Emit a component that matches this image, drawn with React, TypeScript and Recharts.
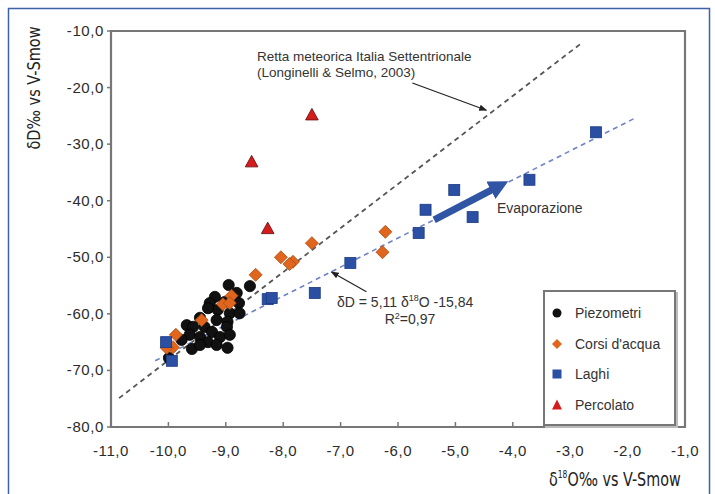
import {
  ScatterChart,
  Scatter,
  XAxis,
  YAxis,
  ReferenceArea,
  ReferenceLine,
  Legend,
  Customized,
} from 'recharts'

// δ18O / δD values
const piezX = [-8.95, -8.58, -9.19, -8.81, -9.02, -8.77, -9.28, -9.14, -9.31, -8.93, -9.45, -8.76, -9.16, -8.97, -8.98, -9.68, -9.57, -9.37, -9.63, -9.24, -9.45, -9.10, -8.93, -9.31, -9.16, -8.97, -9.59, -9.45, -9.77, -9.99]
const piezY = [-54.9, -55.1, -57.0, -56.3, -57.9, -58.1, -58.1, -59.3, -59.0, -59.9, -60.7, -59.9, -61.1, -61.4, -62.3, -62.0, -62.3, -62.3, -63.7, -63.2, -64.1, -64.1, -63.7, -65.0, -65.5, -66.0, -66.2, -65.5, -64.6, -67.8]

const corsiX = [-7.50, -6.22, -6.27, -8.04, -7.83, -7.89, -8.48, -8.90, -9.05, -8.93, -9.42, -9.87, -9.92, -10.03]
const corsiY = [-47.5, -45.5, -49.1, -50.0, -50.8, -51.2, -53.1, -56.8, -58.3, -58.1, -61.1, -63.7, -65.9, -66.0]

const laghiX = [-2.55, -3.71, -5.02, -5.52, -4.70, -5.64, -6.83, -7.45, -8.27, -8.20, -10.04, -9.94]
const laghiY = [-27.9, -36.3, -38.1, -41.6, -42.9, -45.7, -51.0, -56.3, -57.4, -57.2, -65.0, -68.3]

const percX = [-7.50, -8.55, -8.27]
const percY = [-24.9, -33.2, -45.0]

// retta meteorica (Longinelli & Selmo) and regression line end points
const mwlX = [-10.86, -2.81]
const mwlY = [-74.9, -12.2]
const regX = [-10.23, -1.89]
const regY = [-68.3, -25.5]

// annotation arrows
const evapX = [-5.37, -4.2]
const evapY = [-43.4, -37.2]
const mwlArrowX = [-5.75, -4.46]
const mwlArrowY = [-19.2, -24.0]
const regArrowX = [-6.55, -7.16]
const regArrowY = [-56.1, -52.6]

const xTicks = [-11, -10, -9, -8, -7, -6, -5, -4, -3, -2, -1]
const yTicks = [-80, -70, -60, -50, -40, -30, -20, -10]

const seriesNames = ['Piezometri', "Corsi d'acqua", 'Laghi', 'Percolato']

const toPts = (xs: number[], ys: number[]) => xs.map((x, i) => ({ x, y: ys[i] }))

const piezData = toPts(piezX, piezY)
const corsiData = toPts(corsiX, corsiY)
const laghiData = toPts(laghiX, laghiY)
const percData = toPts(percX, percY)

const fmt = (v: number) => v.toFixed(1).replace('.', ',')
const FONT = '"Liberation Sans", Arial, sans-serif'
const COND = '"DejaVu Sans Condensed", "DejaVu Sans", sans-serif'

const Dot = (p: any) => <circle cx={p.cx} cy={p.cy} r={5.6} fill="#111" stroke="#000" strokeWidth={0.8} />
const Diamond = (p: any) => {
  const s = 6.5
  return (
    <polygon
      points={`${p.cx},${p.cy - s} ${p.cx + s},${p.cy} ${p.cx},${p.cy + s} ${p.cx - s},${p.cy}`}
      fill="#e0661e"
      stroke="#a94a12"
      strokeWidth={0.8}
    />
  )
}
const Square = (p: any) => (
  <rect x={p.cx - 5.5} y={p.cy - 5.5} width={11} height={11} fill="#2b4fa3" stroke="#1b3a80" strokeWidth={0.8} />
)
const Triangle = (p: any) => {
  const h = 11
  return (
    <polygon
      points={`${p.cx},${p.cy - h * 0.62} ${p.cx + 6.3},${p.cy + h * 0.42} ${p.cx - 6.3},${p.cy + h * 0.42}`}
      fill="#d51c1c"
      stroke="#6e1010"
      strokeWidth={0.9}
    />
  )
}

const XTick = (p: any) => (
  <g>
    <line x1={p.x} x2={p.x} y1={p.y} y2={p.y - 5} stroke="#777" strokeWidth={1.5} />
    <text x={p.x} y={p.y + 29} textAnchor="middle" fontFamily={FONT} fontSize={15} letterSpacing={0.6} fill="#2b2b2b">
      {fmt(p.payload.value)}
    </text>
  </g>
)

const YTick = (p: any) => (
  <g>
    <line x1={p.x - 4} x2={p.x} y1={p.y} y2={p.y} stroke="#777" strokeWidth={1.5} />
    <text x={p.x - 7} y={p.y + 5} textAnchor="end" fontFamily={FONT} fontSize={15} letterSpacing={0.6} fill="#2b2b2b">
      {fmt(p.payload.value)}
    </text>
  </g>
)

const legendMarks = [
  <circle cx={8} cy={8} r={4.5} fill="#111" />,
  <polygon points="8,3 13,8 8,13 3,8" fill="#e0661e" />,
  <rect x={3.5} y={3.5} width={9} height={9} fill="#2b4fa3" />,
  <polygon points="8,2.5 13,12.5 3,12.5" fill="#d51c1c" />,
]

const LegendBox = () => (
  <div
    style={{
      width: 129,
      height: 126,
      border: '2px solid #777',
      boxShadow: '2px 2px 0 #bbb',
      background: '#fff',
      fontFamily: FONT,
      fontSize: 14,
      color: '#333',
      paddingTop: 6,
      boxSizing: 'content-box',
    }}
  >
    {seriesNames.map((n, i) => (
      <div key={n} style={{ display: 'flex', alignItems: 'center', height: 30.5 }}>
        <svg width={16} height={16} style={{ marginLeft: 4, marginRight: 10 }}>
          {legendMarks[i]}
        </svg>
        <span>{n}</span>
      </div>
    ))}
  </div>
)

const Annotations = () => (
  <g>
    <defs>
      <marker id="thin" viewBox="0 0 10 10" refX="9" refY="5" markerWidth="8" markerHeight="8" orient="auto" markerUnits="userSpaceOnUse">
        <path d="M0,1 L10,5 L0,9 z" fill="#222" />
      </marker>
      <marker id="fat" viewBox="0 0 10 10" refX="6" refY="5" markerWidth="2.8" markerHeight="2.8" orient="auto">
        <path d="M0,0 L10,5 L0,10 z" fill="#2f55a4" />
      </marker>
    </defs>
    <rect x={8.5} y={8.5} width={701} height={495} fill="none" stroke="#3d62a6" strokeWidth={1.5} />
    <rect x={693} y={438} width={15} height={24} fill="#fff" />
    <text transform="translate(40,88) rotate(-90)" textAnchor="middle" fontFamily={COND} fontSize={18} textLength={123} lengthAdjust="spacingAndGlyphs" fill="#222">
      δD‰ vs V-Smow
    </text>
    <g transform="translate(549,486) scale(0.84,1)">
      <text x={0} y={0} fontFamily={COND} fontSize={19} fill="#222">
        δ<tspan fontSize={10} dy={-8}>18</tspan>
        <tspan dy={8}>O‰ vs V-Smow</tspan>
      </text>
    </g>
    <g fontFamily={FONT} fontSize={13.5} fill="#333">
      <text x={257} y={61}>Retta meteorica Italia Settentrionale</text>
      <text x={257} y={77}>(Longinelli &amp; Selmo, 2003)</text>
      <text x={497} y={213} fontSize={14}>Evaporazione</text>
      <text x={337} y={307} fontSize={14}>
        δD = 5,11 δ<tspan fontSize={9} dy={-6}>18</tspan>
        <tspan dy={6}>O -15,84</tspan>
      </text>
      <text x={410} y={324} textAnchor="middle" fontSize={14}>
        R<tspan fontSize={9} dy={-5}>2</tspan>
        <tspan dy={5}>=0,97</tspan>
      </text>
    </g>
  </g>
)

export default function App() {
  return (
    <div style={{ position: 'absolute', left: 0, top: 0, width: 715, height: 494, background: '#fff' }}>
      <ScatterChart width={715} height={494} margin={{ top: 31, right: 30, bottom: 37, left: 51 }}>
        <XAxis
          type="number"
          dataKey="x"
          domain={[-11, -1]}
          ticks={xTicks}
          allowDataOverflow
          axisLine={false}
          tickLine={false}
          tickSize={0}
          tickMargin={0}
          height={30}
          tick={<XTick />}
          interval={0}
        />
        <YAxis
          type="number"
          dataKey="y"
          domain={[-80, -10]}
          ticks={yTicks}
          allowDataOverflow
          axisLine={false}
          tickLine={false}
          tickSize={0}
          tickMargin={0}
          width={60}
          tick={<YTick />}
          interval={0}
        />
        <ReferenceArea x1={-11} x2={-1} y1={-80} y2={-10} fill="none" stroke="#777" strokeWidth={2.2} ifOverflow="visible" />
        <ReferenceLine
          segment={[{ x: mwlX[0], y: mwlY[0] }, { x: mwlX[1], y: mwlY[1] }]}
          stroke="#555"
          strokeWidth={1.8}
          strokeDasharray="5 4"
          ifOverflow="visible"
        />
        <ReferenceLine
          segment={[{ x: regX[0], y: regY[0] }, { x: regX[1], y: regY[1] }]}
          stroke="#7183c4"
          strokeWidth={1.6}
          strokeDasharray="5 4"
          ifOverflow="visible"
        />
        <ReferenceLine
          segment={[{ x: mwlArrowX[0], y: mwlArrowY[0] }, { x: mwlArrowX[1], y: mwlArrowY[1] }]}
          stroke="#222"
          strokeWidth={1.2}
          markerEnd="url(#thin)"
          ifOverflow="visible"
        />
        <ReferenceLine
          segment={[{ x: regArrowX[0], y: regArrowY[0] }, { x: regArrowX[1], y: regArrowY[1] }]}
          stroke="#222"
          strokeWidth={1.2}
          markerEnd="url(#thin)"
          ifOverflow="visible"
        />
        <ReferenceLine
          segment={[{ x: evapX[0], y: evapY[0] }, { x: evapX[1], y: evapY[1] }]}
          stroke="#2f55a4"
          strokeWidth={7}
          markerEnd="url(#fat)"
          ifOverflow="visible"
        />
        <Scatter name={seriesNames[0]} data={piezData} shape={<Dot />} isAnimationActive={false} />
        <Scatter name={seriesNames[1]} data={corsiData} shape={<Diamond />} isAnimationActive={false} />
        <Scatter name={seriesNames[2]} data={laghiData} shape={<Square />} isAnimationActive={false} />
        <Scatter name={seriesNames[3]} data={percData} shape={<Triangle />} isAnimationActive={false} />
        <Legend
          layout="horizontal"
          verticalAlign="middle"
          align="center"
          content={() => <LegendBox />}
          wrapperStyle={{ left: 543, top: 290, width: 133, height: 132 }}
        />
        <Customized component={Annotations} />
      </ScatterChart>
    </div>
  )
}
